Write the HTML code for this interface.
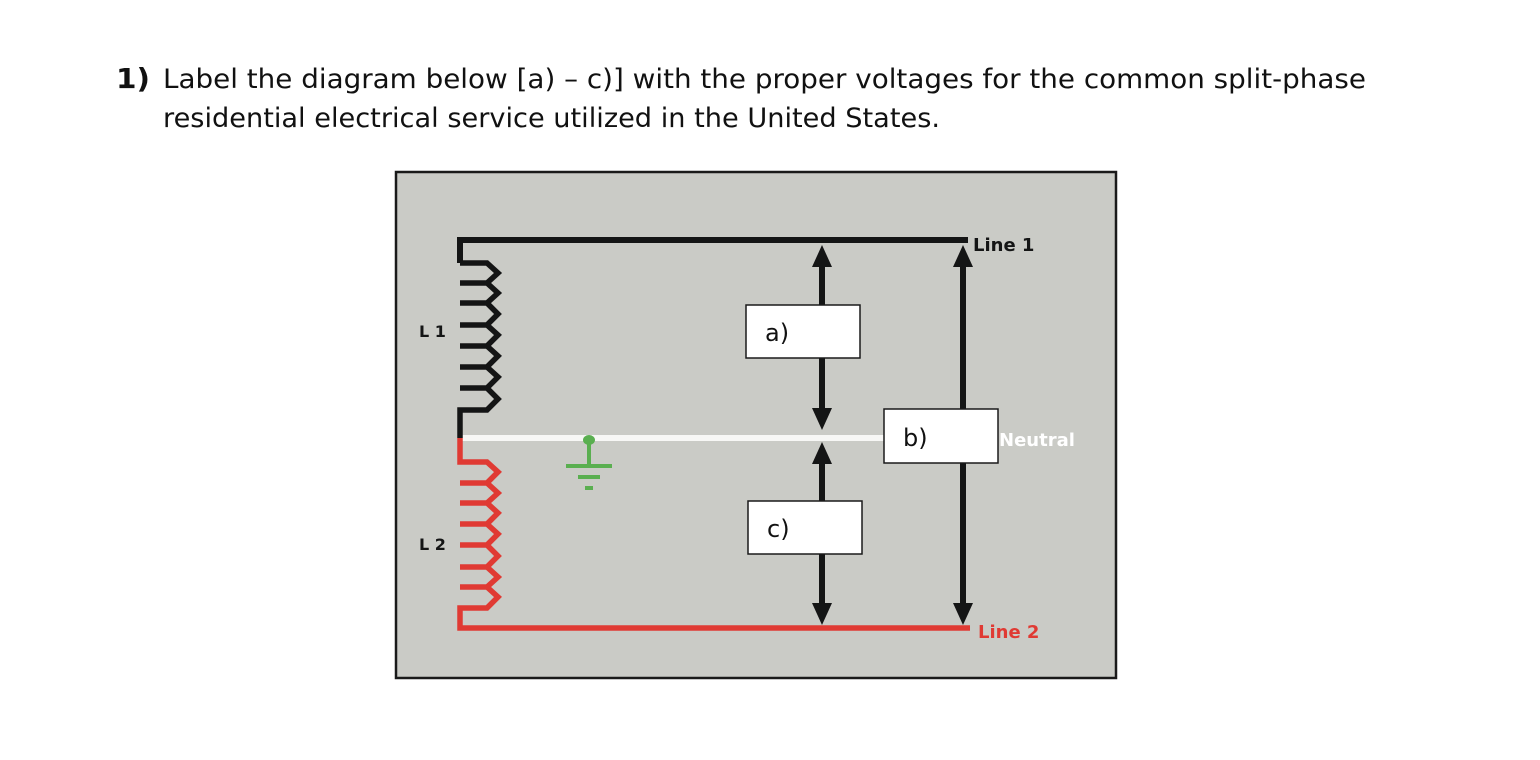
<!DOCTYPE html>
<html><head><meta charset="utf-8"><style>
html,body{margin:0;padding:0;background:#fff;width:1540px;height:760px;overflow:hidden}
svg{display:block}
</style></head><body>
<svg width="1540" height="760" viewBox="0 0 1540 760" xmlns="http://www.w3.org/2000/svg">
<text x="116" y="88" font-family="DejaVu Sans, sans-serif" font-size="28" font-weight="bold" fill="#111" textLength="34" lengthAdjust="spacingAndGlyphs">1)</text>
<text x="163" y="88" font-family="DejaVu Sans, sans-serif" font-size="27" fill="#111" textLength="1203" lengthAdjust="spacingAndGlyphs">Label the diagram below [a) – c)] with the proper voltages for the common split-phase</text>
<text x="163" y="127" font-family="DejaVu Sans, sans-serif" font-size="27" fill="#111" textLength="777" lengthAdjust="spacingAndGlyphs">residential electrical service utilized in the United States.</text>

<rect x="396" y="172" width="720" height="506" fill="#cacbc6" stroke="#1a1a1a" stroke-width="2.5"/>

<line x1="460" y1="438" x2="886" y2="438" stroke="#f7f7f5" stroke-width="6"/>
<path d="M968,240 H460 V263" fill="none" stroke="#141515" stroke-width="6"/>
<path d="M460,263 H487 L498,273 L487,283 H460 M460,283 H487 L498,293 L487,303 H460 M460,303 H487 L498,314 L487,325 H460 M460,325 H487 L498,335 L487,346 H460 M460,346 H487 L498,356 L487,367 H460 M460,367 H487 L498,377 L487,388 H460 M460,388 H487 L498,399 L487,410 H460 V438" fill="none" stroke="#141515" stroke-width="5.5"/>
<path d="M460,438 V462 H487 L498,472 L487,483 H460 M460,483 H487 L498,493 L487,503 H460 M460,503 H487 L498,513 L487,524 H460 M460,524 H487 L498,534 L487,545 H460 M460,545 H487 L498,556 L487,567 H460 M460,567 H487 L498,577 L487,587 H460 M460,587 H487 L498,597 L487,608 H460 V628 H970" fill="none" stroke="#e03a33" stroke-width="5.5"/>

<g fill="#5aaf50">
<ellipse cx="589" cy="440" rx="6" ry="5"/>
<rect x="587" y="440" width="4" height="26"/>
<rect x="566" y="464" width="46" height="4"/>
<rect x="578" y="475" width="22" height="4"/>
<rect x="585" y="486" width="8" height="4"/>
</g>

<g stroke="#141515" stroke-width="6">
<line x1="822" y1="262" x2="822" y2="412"/>
<line x1="822" y1="460" x2="822" y2="608"/>
<line x1="963" y1="262" x2="963" y2="608"/>
</g>
<g fill="#141515">
<polygon points="822,245 812,267 832,267"/>
<polygon points="822,430 812,408 832,408"/>
<polygon points="822,442 812,464 832,464"/>
<polygon points="822,625 812,603 832,603"/>
<polygon points="963,245 953,267 973,267"/>
<polygon points="963,625 953,603 973,603"/>
</g>

<g fill="#fff" stroke="#1a1a1a" stroke-width="1.5">
<rect x="746" y="305" width="114" height="53"/>
<rect x="748" y="501" width="114" height="53"/>
<rect x="884" y="409" width="114" height="54"/>
</g>
<g font-family="DejaVu Sans, sans-serif" font-size="24" fill="#111">
<text x="765" y="341">a)</text>
<text x="767" y="537">c)</text>
<text x="903" y="446">b)</text>
</g>

<g font-family="DejaVu Sans, sans-serif" font-weight="bold" font-size="18">
<text x="973" y="251" fill="#141515">Line 1</text>
<text x="999" y="446" fill="#ffffff">Neutral</text>
<text x="978" y="638" fill="#e03a33">Line 2</text>
</g>
<g font-family="DejaVu Sans, sans-serif" font-weight="bold" font-size="16" fill="#141515">
<text x="419" y="337">L 1</text>
<text x="419" y="550">L 2</text>
</g>
</svg>
</body></html>
